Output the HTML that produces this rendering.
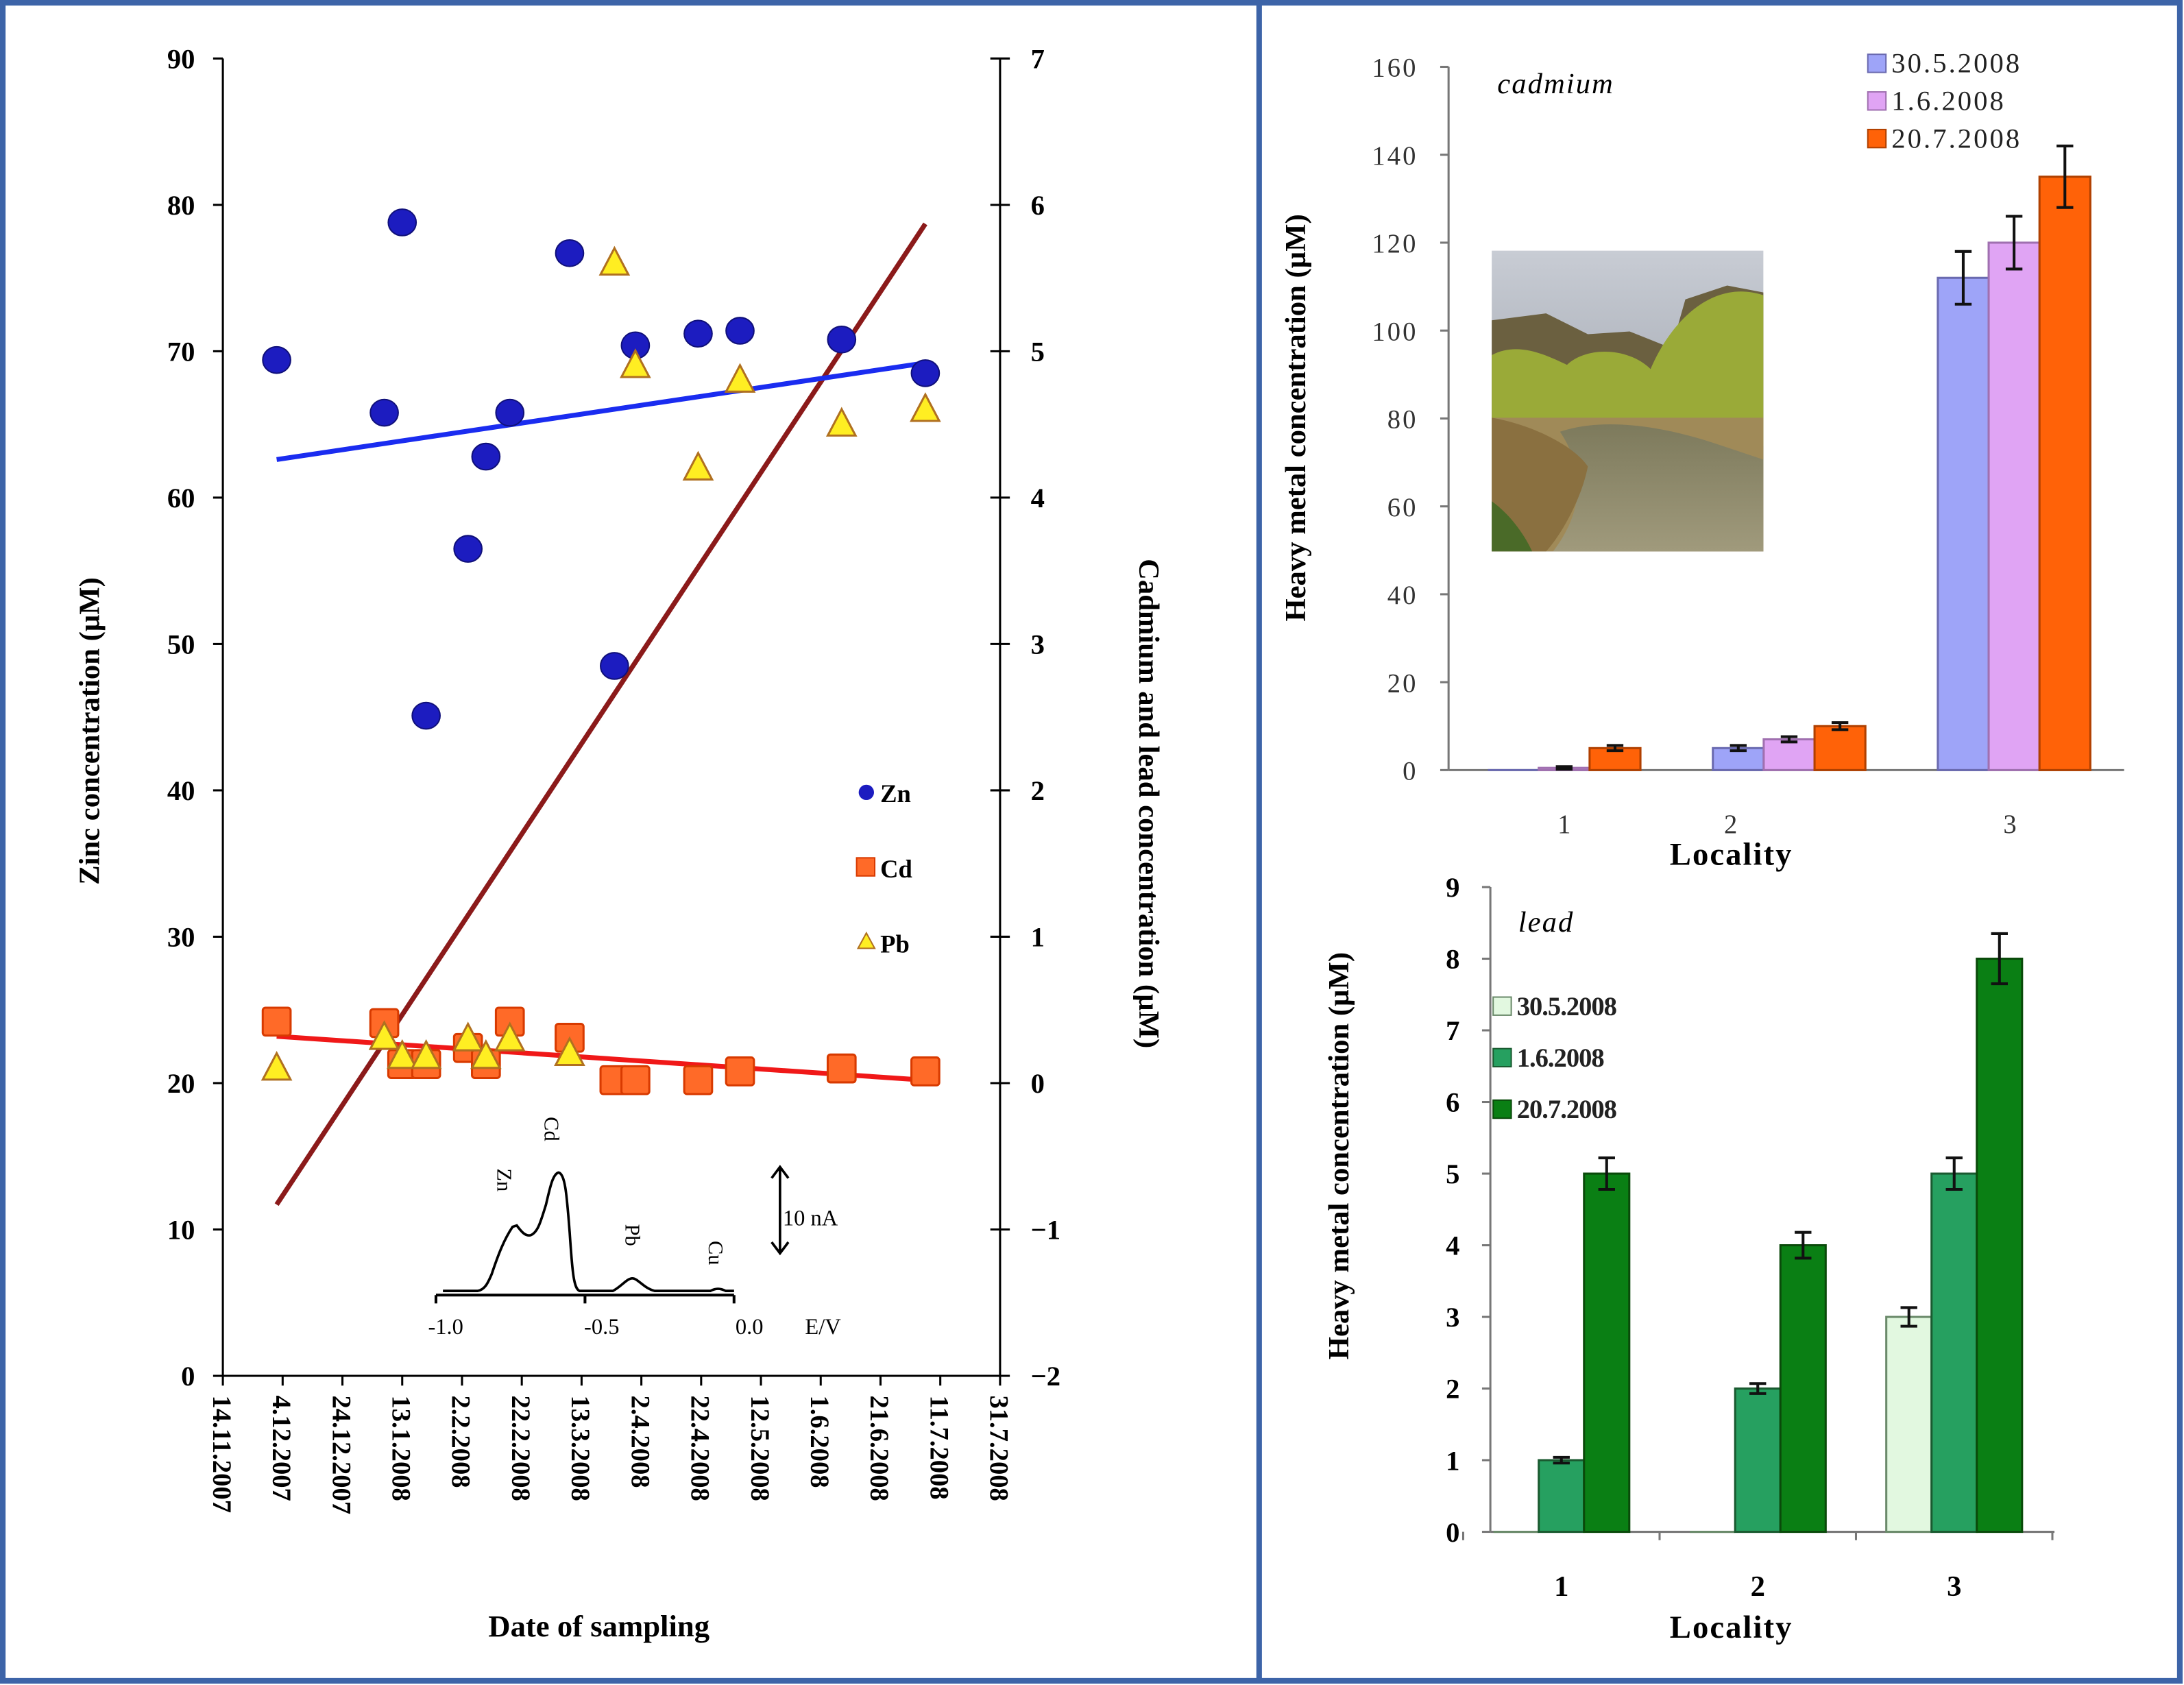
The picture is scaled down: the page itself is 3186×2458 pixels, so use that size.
<!DOCTYPE html>
<html><head><meta charset="utf-8"><style>
html,body{margin:0;padding:0;background:#fff}
svg{display:block}
text{font-family:"Liberation Serif",serif}
</style></head><body>
<svg id="s" xmlns="http://www.w3.org/2000/svg" width="3186" height="2458" viewBox="0 0 1568 1210" preserveAspectRatio="none">
<defs>
<linearGradient id="sky" x1="0" y1="0" x2="0" y2="1"><stop offset="0" stop-color="#c8ccd4"/><stop offset="1" stop-color="#8e949e"/></linearGradient>
<linearGradient id="water" x1="0" y1="0" x2="0" y2="1"><stop offset="0" stop-color="#7d7a5c"/><stop offset="1" stop-color="#a09a7c"/></linearGradient>
</defs>
<rect x="0" y="0" width="1568" height="1210" fill="#fff"/>
<rect x="2" y="2" width="1563" height="1205" fill="none" stroke="#3d64a8" stroke-width="4"/>
<line x1="904" y1="2" x2="904" y2="1208" stroke="#3d64a8" stroke-width="4"/>
<g id="left"></g>
<g id="top"></g>
<g id="bot"></g>
</svg>
<script>
// ---- Left chart data ----
const dateLabels=["14.11.2007","4.12.2007","24.12.2007","13.1.2008","2.2.2008","22.2.2008","13.3.2008","2.4.2008","22.4.2008","12.5.2008","1.6.2008","21.6.2008","11.7.2008","31.7.2008"];
const leftTicks=[0,10,20,30,40,50,60,70,80,90];
const rightTicks=[-2,-1,0,1,2,3,4,5,6,7];
const sampleDays=[18,54,60,68,82,88,96,116,131,138,159,173,207,235];
const znValues=[69.4,65.8,78.8,45.1,56.5,62.8,65.8,76.7,48.5,70.4,71.2,71.4,70.8,68.5];
const cdValues=[0.42,0.41,0.13,0.13,0.24,0.13,0.42,0.31,0.02,0.02,0.02,0.08,0.10,0.08];
const pbValues=[0.10,0.31,0.18,0.18,0.30,0.18,0.30,0.20,5.6,4.9,4.2,4.8,4.5,4.6];
const trendDays=[18,235];
const znTrend=[62.6,69.2];
const cdTrend=[0.32,0.02];
const pbTrend=[-0.83,5.87];
// ---- Cadmium bar data ----
const localities=["1","2","3"];
const cdSeriesNames=["30.5.2008","1.6.2008","20.7.2008"];
const cdTicks=[0,20,40,60,80,100,120,140,160];
const cdBar1=[0,5,112];
const cdBar2=[0.5,7,120];
const cdBar3=[5,10,135];
const cdErr1=[0,0.6,6];
const cdErr2=[0.3,0.6,6];
const cdErr3=[0.6,0.8,7];
// ---- Lead bar data ----
const pbSeriesNames=["30.5.2008","1.6.2008","20.7.2008"];
const pbTicks=[0,1,2,3,4,5,6,7,8,9];
const pbBar1=[0,0,3];
const pbBar2=[1,2,5];
const pbBar3=[5,4,8];
const pbErr1=[0,0,0.13];
const pbErr2=[0.04,0.07,0.22];
const pbErr3=[0.22,0.18,0.35];

const NS="http://www.w3.org/2000/svg";
function mk(parent,tag,attrs,txt){const e=document.createElementNS(NS,tag);for(const k in attrs)e.setAttribute(k,attrs[k]);if(txt!==undefined)e.textContent=txt;parent.appendChild(e);return e;}

// ===== LEFT =====
(function(){
const g=document.getElementById('left');
const X0=160,X1=718,YT=42,YB=988;
const xs=d=>X0+d/260*(X1-X0);
const yl=v=>YB-(v/90)*(YB-YT);
const yr=v=>YB-((v+2)/9)*(YB-YT);
let e;
e=mk(g,'line',{x1:X0,y1:YT,x2:X0,y2:YB,stroke:'#000','stroke-width':1.5});


e=mk(g,'line',{x1:X1,y1:YT,x2:X1,y2:YB,stroke:'#000','stroke-width':1.5});


e=mk(g,'line',{x1:X0,y1:YB,x2:X1,y2:YB,stroke:'#000','stroke-width':1.5});


leftTicks.forEach(v=>{const y=yl(v);mk(g,'line',{x1:X0-7,y1:y,x2:X0,y2:y,stroke:'#000','stroke-width':1.5});
 e=mk(g,'text',{x:X0-20,y:y+7,'text-anchor':'end','font-size':20,'font-weight':'bold'},v);
 
 });
rightTicks.forEach(v=>{const y=yr(v);mk(g,'line',{x1:X1-7,y1:y,x2:X1+7,y2:y,stroke:'#000','stroke-width':1.5});
 e=mk(g,'text',{x:X1+22,y:y+7,'font-size':20,'font-weight':'bold'},v<0?'\u2212'+(-v):v);
 
 });
dateLabels.forEach((t,i)=>{const x=xs(i*20);mk(g,'line',{x1:x,y1:YB,x2:x,y2:YB+7,stroke:'#000','stroke-width':1.5});
 e=mk(g,'text',{x:0,y:0,transform:`translate(${x-7},${YB+14}) rotate(90)`,'font-size':19,'font-weight':'bold'},t);
 
 });
e=mk(g,'text',{x:0,y:0,transform:`translate(71,${(YT+YB)/2+10}) rotate(-90)`,'text-anchor':'middle','font-size':21,'font-weight':'bold'},'Zinc concentration (µM)');


e=mk(g,'text',{x:0,y:0,transform:`translate(818,577) rotate(90)`,'text-anchor':'middle','font-size':21,'font-weight':'bold'},'Cadmium and lead concentration (µM)');


e=mk(g,'text',{x:430,y:1175,'text-anchor':'middle','font-size':22,'font-weight':'bold'},'Date of sampling');


// trend lines
e=mk(g,'line',{x1:xs(trendDays[0]),y1:yr(pbTrend[0]),x2:xs(trendDays[1]),y2:yr(pbTrend[1]),stroke:'#8b1a1a','stroke-width':3.5});


e=mk(g,'line',{x1:xs(trendDays[0]),y1:yl(znTrend[0]),x2:xs(trendDays[1]),y2:yl(znTrend[1]),stroke:'#1a2cf0','stroke-width':3.5});


e=mk(g,'line',{x1:xs(trendDays[0]),y1:yr(cdTrend[0]),x2:xs(trendDays[1]),y2:yr(cdTrend[1]),stroke:'#f01818','stroke-width':3.5});


// points
sampleDays.forEach((d,i)=>{const x=xs(d);
 e=mk(g,'ellipse',{cx:x,cy:yl(znValues[i]),rx:10,ry:9.5,fill:'#1c1cc0',stroke:'#10107a','stroke-width':1});
 
 
 const yc=yr(cdValues[i]);
 e=mk(g,'rect',{x:x-10,y:yc-10,width:20,height:20,rx:2,fill:'#ff6a28',stroke:'#d83a00','stroke-width':1.5});
 
 });
sampleDays.forEach((d,i)=>{const x=xs(d),y=yr(pbValues[i]);
 e=mk(g,'polygon',{points:`${x},${y-11} ${x-10},${y+8} ${x+10},${y+8}`,fill:'#ffee22',stroke:'#b07020','stroke-width':1.5});
 
 });
// legend
const lg=mk(g,'g',{});


mk(lg,'circle',{cx:622,cy:569,r:5.5,fill:'#1c1cc0'});
mk(lg,'text',{x:632,y:576,'font-size':18,'font-weight':'bold'},'Zn');
mk(lg,'rect',{x:615,y:616,width:13,height:13,fill:'#ff6a28',stroke:'#d83a00'});
mk(lg,'text',{x:632,y:630,'font-size':18,'font-weight':'bold'},'Cd');
mk(lg,'polygon',{points:'622,670 616,681 628,681',fill:'#ffee22',stroke:'#b07020'});
mk(lg,'text',{x:632,y:684,'font-size':18,'font-weight':'bold'},'Pb');
// inset voltammogram
const ins=mk(g,'g',{});


mk(ins,'path',{d:'M313,930 L527,930 M313,930 v6 M420,930 v6 M527,930 v6',stroke:'#000','stroke-width':2,fill:'none'});
mk(ins,'path',{d:'M318,927 L343,927 C348,926 350,922 353,915 C358,900 362,890 368,881 L371,880 C374,884 377,888 381,887 C386,885 388,878 392,865 C395,852 397,843 401,842 C406,843 407,860 409,885 C411,915 412,925 416,927 L440,927 C446,924 450,918 454,918 C458,918 462,925 470,927 L510,927 C514,925 517,925 521,927 L527,927',stroke:'#000','stroke-width':1.8,fill:'none'});
[['-1.0',320],['-0.5',432],['0.0',538]].forEach(a=>mk(ins,'text',{x:a[1],y:958,'text-anchor':'middle','font-size':16},a[0]));
mk(ins,'text',{x:578,y:958,'font-size':16},'E/V');
[['Zn',363,853],['Cd',397,816],['Pb',455,893],['Cu',515,905]].forEach(a=>mk(ins,'text',{x:0,y:0,transform:`translate(${a[1]-6},${a[2]-14}) rotate(90)`,'font-size':15},a[0]));
mk(ins,'path',{d:'M560,838 L560,900 M554,846 L560,838 L566,846 M554,892 L560,900 L566,892',stroke:'#000','stroke-width':1.8,fill:'none'});
mk(ins,'text',{x:562,y:880,'font-size':16},'10 nA');
})();

// ===== bar chart builder =====
function barChart(gid,o){
const g=document.getElementById(gid);
const {X0,X1,YT,YB,vmax,ticks,series,errs,colors,strokes,names,c0,step,barW}=o;
const y=v=>YB-v/vmax*(YB-YT);
let e;
e=mk(g,'line',{x1:X0,y1:YT,x2:X0,y2:YB,stroke:'#777','stroke-width':1.5});


e=mk(g,'line',{x1:X0,y1:YB,x2:X1,y2:YB,stroke:'#777','stroke-width':1.5});


ticks.forEach(v=>{mk(g,'line',{x1:X0-6,y1:y(v),x2:X0,y2:y(v),stroke:'#777','stroke-width':1.5});
 e=mk(g,'text',{x:X0-22,y:y(v)+7,'text-anchor':'end','font-size':o.tickFs,'font-weight':o.tickW,fill:o.tickCol,'letter-spacing':o.ls},v);
 
 });
if(o.sepTicks){for(let i=0;i<=localities.length;i++){const x=c0-step/2+i*step;mk(g,'line',{x1:x,y1:YB,x2:x,y2:YB+6,stroke:'#777','stroke-width':1.5});}}
localities.forEach((l,i)=>{const cx=c0+i*step;
 e=mk(g,'text',{x:cx+o.labOff[i],y:o.labY,'text-anchor':'middle','font-size':o.catFs,'font-weight':o.tickW,fill:o.tickCol},l);
 
 
 series.forEach((s,j)=>{const bx=cx+(j-1.5)*barW;const v=s[i];
  if(v>0){e=mk(g,'rect',{x:bx,y:y(v),width:barW,height:YB-y(v),fill:colors[j],stroke:strokes[j],'stroke-width':1.5});}
  else{e=mk(g,'line',{x1:bx,y1:YB,x2:bx+barW,y2:YB,stroke:strokes[j],'stroke-width':1.5});}
  
  
  const er=errs[j][i];
  if(er>0){const mx=bx+barW/2;
   e=mk(g,'path',{d:`M${mx},${y(v+er)} V${y(v-er)} M${mx-6},${y(v+er)} h12 M${mx-6},${y(v-er)} h12`,stroke:'#111','stroke-width':2,fill:'none'});
   
   }
 });});
e=mk(g,'text',{x:o.locX,y:o.locY,'text-anchor':'middle','font-size':23,'font-weight':'bold','letter-spacing':1},'Locality');


e=mk(g,'text',{x:0,y:0,transform:`translate(${o.ytX},${o.ytY}) rotate(-90)`,'text-anchor':'middle','font-size':21,'font-weight':'bold'},'Heavy metal concentration (µM)');


e=mk(g,'text',{x:o.ttlX,y:o.ttlY,'font-size':21,'font-style':'italic','letter-spacing':1},o.title);


const lg=mk(g,'g',{});


names.forEach((n,j)=>{const ly=o.legY+j*o.legDy;
 mk(lg,'rect',{x:o.legX,y:ly-13,width:13,height:13,fill:colors[j],stroke:strokes[j]});
 mk(lg,'text',{x:o.legX+17,y:ly,'font-size':o.legFs,'font-weight':o.legW,'letter-spacing':o.legLs,fill:'#222'},n);});
}

barChart('top',{X0:1040,X1:1525,YT:48,YB:553,vmax:160,ticks:cdTicks,series:[cdBar1,cdBar2,cdBar3],errs:[cdErr1,cdErr2,cdErr3],
 colors:['#9ea4f8','#e0a4f4','#ff6208'],strokes:['#6a6ab0','#a070b0','#b04000'],names:cdSeriesNames,
 c0:1123,step:161.5,barW:36.5,tickFs:19,tickW:'normal',tickCol:'#333',ls:1.5,catFs:19,labY:598,labOff:[0,-42,-3],
 locX:1243,locY:621,ytX:937,ytY:300,ttlX:1075,ttlY:67,title:'cadmium',legX:1341,legY:52,legDy:27,legFs:20,legW:'normal',legLs:1.5,sepTicks:false});
barChart('bot',{X0:1070,X1:1475,YT:637,YB:1100,vmax:9,ticks:pbTicks,series:[pbBar1,pbBar2,pbBar3],errs:[pbErr1,pbErr2,pbErr3],
 colors:['#e2f8e0','#26a060','#0a7f14'],strokes:['#6a8a6a','#1a5a30','#0a4a0a'],names:pbSeriesNames,
 c0:1121,step:141,barW:32.5,tickFs:20,tickW:'bold',tickCol:'#000',ls:0,catFs:21,labY:1146,labOff:[0,0,0],
 locX:1243,locY:1176,ytX:968,ytY:830,ttlX:1090,ttlY:669,title:'lead',legX:1072,legY:729,legDy:37,legFs:19,legW:'bold',legLs:-0.5,sepTicks:true});

// photo (decorative)
(function(){const g=document.getElementById('top');
const p=mk(g,'g',{});


mk(p,'rect',{x:1071,y:180,width:195,height:216,fill:'url(#sky)'});
mk(p,'path',{d:'M1071,230 L1110,225 L1140,240 L1170,238 L1200,250 L1210,215 L1240,205 L1266,210 L1266,330 L1071,330 Z',fill:'#6b6040'});
mk(p,'path',{d:'M1071,255 C1090,245 1110,255 1125,262 C1140,248 1170,250 1185,265 C1200,230 1230,200 1266,212 L1266,320 L1071,310 Z',fill:'#9aaa38'});
mk(p,'path',{d:'M1071,300 L1266,300 L1266,396 L1071,396 Z',fill:'#a08a58'});
mk(p,'path',{d:'M1120,310 C1150,300 1190,305 1230,318 L1266,330 L1266,396 L1115,396 C1135,370 1140,340 1120,310 Z',fill:'url(#water)'});
mk(p,'path',{d:'M1071,300 C1100,305 1130,320 1140,335 C1135,360 1120,385 1110,396 L1071,396 Z',fill:'#8a7040'});
mk(p,'path',{d:'M1071,360 C1085,370 1095,385 1100,396 L1071,396 Z',fill:'#4a6a28'});
})();
</script>
</body></html>
